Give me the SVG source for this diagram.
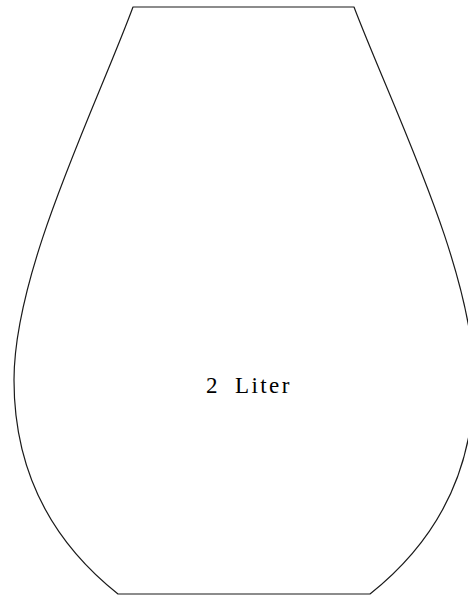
<svg xmlns="http://www.w3.org/2000/svg" width="468" height="597" viewBox="0 0 468 597">
<style>
.outline{fill:none;stroke:#1a1a1a;stroke-width:1.2;stroke-linejoin:round}
.lbl{font-family:"Liberation Serif","DejaVu Serif",serif;font-size:23px;fill:#000}
</style>
<rect width="468" height="597" fill="#fff"/>
<g id="vase">
<path class="outline" d="M133,7 L354,7 C392,107 474,270 474,380 C474,470 438,540 370,594 L118,594 C50,540 14,470 14,380 C14,270 96,107 133,7 Z"/>
<text class="lbl" x="206" y="393">2 <tspan x="235" letter-spacing="2.4">Liter</tspan></text>
</g>
</svg>
